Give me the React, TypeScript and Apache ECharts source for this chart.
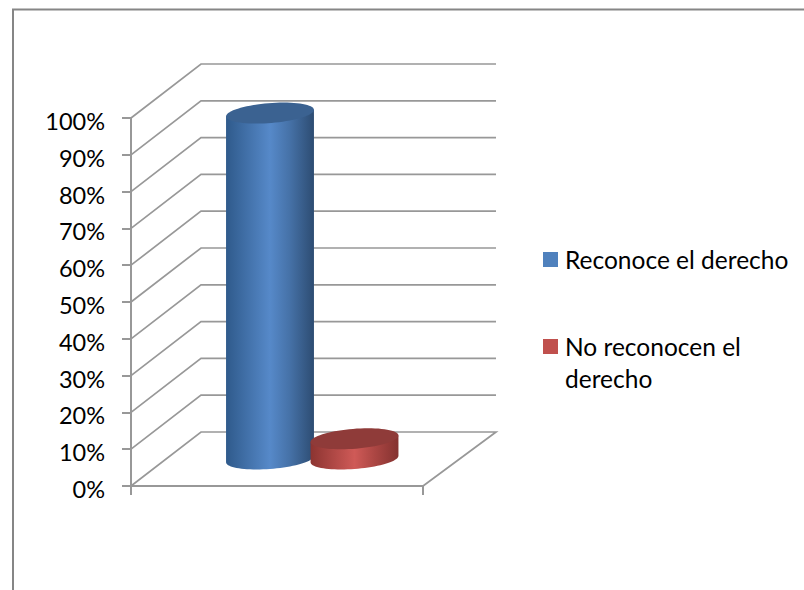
import React, { useEffect, useRef } from "react";
import * as echarts from "echarts";

const categories = [""];
const axisTicks = [0, 10, 20, 30, 40, 50, 60, 70, 80, 90, 100];
const recognizes = [94];
const doesNotRecognize = [5.5];
const NAME_A = "Reconoce el derecho";
const NAME_B = "No reconocen el derecho";

const DEPTH_X = 70;
const DEPTH_Y = -54;
const AX_COLOR = "#989898";
const FONT = "Lato, Carlito, sans-serif";
const LEGEND_RICH = { a: { fontFamily: FONT, fontSize: 24.5, color: "#000000", lineHeight: 32, padding: [0, 0, 0, 2] } };

function ellipsePoint(cx: number, cy: number, t: number) {
  const A = 41.8, C = 13.6, D = -10.5;
  return [cx + Math.cos(t) * A + Math.sin(t) * C, cy + Math.sin(t) * D];
}

function cylinder(bandOffset: number, stops: string[], topColor: string) {
  return (params: any, api: any) => {
    const v = api.value(1);
    const top = api.coord([0, v]);
    const base = api.coord([0, 0]);
    const cx = top[0] + bandOffset + DEPTH_X / 2;
    const topY = top[1] + DEPTH_Y / 2;
    const baseY = base[1] + DEPTH_Y / 2;
    const t0 = Math.atan2(13.6, 41.8);
    const body: number[][] = [ellipsePoint(cx, topY, t0), ellipsePoint(cx, topY, t0 + Math.PI)];
    const n = 40;
    for (let i = 0; i <= n; i++) body.push(ellipsePoint(cx, baseY, t0 + Math.PI + (Math.PI * i) / n));
    const cap: number[][] = [];
    for (let i = 0; i < 72; i++) cap.push(ellipsePoint(cx, topY, (2 * Math.PI * i) / 72));
    return {
      type: "group",
      children: [
        {
          type: "polygon",
          shape: { points: body },
          style: {
            fill: new echarts.graphic.LinearGradient(0, 0, 1, 0, [
              { offset: 0, color: stops[0] },
              { offset: 0.5, color: stops[1] },
              { offset: 0.72, color: stops[2] },
              { offset: 1, color: stops[3] },
            ]),
          },
        },
        { type: "polygon", shape: { points: cap }, style: { fill: topColor } },
      ],
    };
  };
}

export default function App() {
  const ref = useRef<HTMLDivElement>(null);
  useEffect(() => {
    const chart = echarts.init(ref.current!, undefined, { renderer: "svg" });
    chart.setOption({
      animation: false,
      backgroundColor: "#ffffff",
      textStyle: { fontFamily: FONT },
      graphic: [
        {
          type: "rect",
          silent: true,
          z: -10,
          shape: { x: 13, y: 9.5, width: 900, height: 700 },
          style: { fill: "#ffffff", stroke: "#868686", lineWidth: 2 },
        },
      ],
      grid: { left: 131, top: 118, width: 292, height: 368 },
      xAxis: {
        type: "category",
        data: categories,
        axisLine: { lineStyle: { color: AX_COLOR, width: 2 } },
        axisTick: { show: true, length: 9, lineStyle: { color: AX_COLOR, width: 2 } },
        axisLabel: { show: false },
      },
      yAxis: {
        type: "value",
        min: 0,
        max: 100,
        interval: 10,
        axisLine: { show: true, lineStyle: { color: AX_COLOR, width: 2 } },
        axisTick: { show: true, length: 9, lineStyle: { color: AX_COLOR, width: 2 } },
        splitLine: { show: false },
        axisLabel: {
          formatter: (v: number) => `{a|${v}%}`,
          margin: 26,
          rich: {
            a: { color: "#000000", fontFamily: FONT, fontSize: 23.5, padding: [6, 0, 0, 0] },
          },
        },
      },
      legend: [
        {
          data: [NAME_A],
          left: 543,
          top: 247,
          padding: 0,
          itemWidth: 15,
          itemHeight: 15,
          icon: "rect",
          selectedMode: false,
          formatter: (name: string) => `{a|${name}}`,
          textStyle: { rich: LEGEND_RICH },
        },
        {
          data: [NAME_B],
          left: 543,
          top: 302,
          padding: 0,
          itemWidth: 15,
          itemHeight: 15,
          icon: "rect",
          selectedMode: false,
          formatter: () => "{a| }\n{a|No reconocen el}\n{a|derecho}",
          textStyle: { rich: LEGEND_RICH },
        },
      ],
      series: [
        {
          type: "custom",
          name: "walls",
          z: 1,
          silent: true,
          data: axisTicks.map((t) => [0, t]),
          encode: { x: 0, y: 1 },
          renderItem: (params: any, api: any) => {
            const v = api.value(1);
            const y = api.coord([0, v])[1];
            const x = params.coordSys.x;
            const w = params.coordSys.width;
            const pts = [
              [x, y],
              [x + DEPTH_X, y + DEPTH_Y],
              [x + w + (DEPTH_X + 3), y + DEPTH_Y],
            ];
            if (v === 0) pts.push([x + w, y]);
            return {
              type: "polyline",
              shape: { points: pts },
              style: { stroke: AX_COLOR, lineWidth: 1.7, fill: "none" },
            };
          },
        },
        {
          type: "custom",
          name: NAME_A,
          z: 2,
          itemStyle: { color: "#4f81bd" },
          data: recognizes.map((v, i) => [i, v]),
          encode: { x: 0, y: 1 },
          renderItem: cylinder(-42, ["#2f5a8b", "#5689c9", "#4672a8", "#2d4c72"], "#3b6291"),
        },
        {
          type: "custom",
          name: NAME_B,
          z: 3,
          itemStyle: { color: "#c0504d" },
          data: doesNotRecognize.map((v, i) => [i, v]),
          encode: { x: 0, y: 1 },
          renderItem: cylinder(42.5, ["#8c3431", "#cf5a57", "#ad4744", "#843230"], "#8f3b39"),
        },
      ],
    });
    return () => chart.dispose();
  }, []);
  return <div ref={ref} style={{ position: "fixed", left: 0, top: 0, width: 804, height: 590 }} />;
}
